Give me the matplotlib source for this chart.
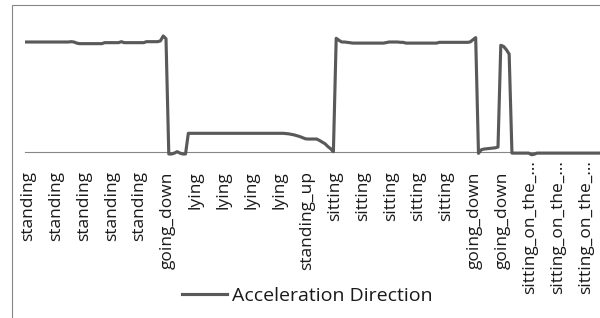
import matplotlib
matplotlib.use("Agg")
import matplotlib.pyplot as plt
import matplotlib.transforms as mtrans
from matplotlib.patches import Rectangle

# Activity label shown for every 10th sample
activity_labels = ['standing', 'standing', 'standing', 'standing', 'standing',
                   'going_down',
                   'lying', 'lying', 'lying', 'lying',
                   'standing_up',
                   'sitting', 'sitting', 'sitting', 'sitting', 'sitting',
                   'going_down', 'going_down',
                   'sitting_on_the_\u2026', 'sitting_on_the_\u2026', 'sitting_on_the_\u2026']
label_every = 10

# Acceleration direction samples, 10 per row (one row per label)
accel_direction = [
    1.00, 1.00, 1.00, 1.00, 1.00, 1.00, 1.00, 1.00, 1.00, 1.00,
    1.00, 1.00, 1.00, 1.00, 1.00, 1.00, 1.003, 1.00, 0.99, 0.985,
    0.985, 0.985, 0.985, 0.985, 0.985, 0.985, 0.985, 0.985, 0.994, 0.994,
    0.994, 0.994, 0.994, 0.994, 1.003, 0.994, 0.994, 0.994, 0.994, 0.994,
    0.994, 0.994, 0.994, 1.003, 1.003, 1.003, 1.003, 1.003, 1.01, 1.055,
    1.03, -0.018, -0.018, -0.01, 0.003, -0.01, -0.018, -0.018, 0.17, 0.17,
    0.17, 0.17, 0.17, 0.17, 0.17, 0.17, 0.17, 0.17, 0.17, 0.17,
    0.17, 0.17, 0.17, 0.17, 0.17, 0.17, 0.17, 0.17, 0.17, 0.17,
    0.17, 0.17, 0.17, 0.17, 0.17, 0.17, 0.17, 0.17, 0.17, 0.17,
    0.17, 0.17, 0.17, 0.168, 0.165, 0.16, 0.155, 0.148, 0.14, 0.13,
    0.12, 0.118, 0.118, 0.118, 0.118, 0.105, 0.09, 0.075, 0.05, 0.03,
    0.003, 1.034, 1.015, 1.00, 1.00, 0.997, 0.995, 0.99, 0.99, 0.99,
    0.99, 0.99, 0.99, 0.99, 0.99, 0.99, 0.99, 0.99, 0.99, 0.995,
    1.00, 1.00, 1.00, 1.00, 0.997, 0.997, 0.99, 0.99, 0.99, 0.99,
    0.99, 0.99, 0.99, 0.99, 0.99, 0.99, 0.99, 0.99, 0.997, 0.997,
    0.997, 0.997, 0.997, 0.997, 0.997, 0.997, 0.997, 0.997, 0.997, 1.00,
    1.02, 1.04, -0.012, 0.02, 0.027, 0.03, 0.032, 0.035, 0.038, 0.045,
    0.97, 0.96, 0.93, 0.89, -0.01, -0.01, -0.01, -0.01, -0.01, -0.01,
    -0.01, -0.025, -0.02, -0.01, -0.01, -0.01, -0.01, -0.01, -0.01, -0.01,
    -0.01, -0.01, -0.01, -0.01, -0.01, -0.01, -0.01, -0.01, -0.01, -0.01,
    -0.01, -0.01, -0.01, -0.01, -0.01, -0.01, -0.01,
]
series_name = 'Acceleration Direction'

plt.rcParams['font.family'] = ['Open Sans', 'DejaVu Sans']

figure = plt.figure(figsize=(6.0, 3.18), dpi=100)
figure.patch.set_facecolor('white')

# Plot area, placed by hand to follow the Excel layout
ax = figure.add_axes([25 / 600, 0.4701, 575 / 600, 0.4670])
ax.plot(range(len(accel_direction)), accel_direction, color='#595959',
        linewidth=2.25, label=series_name)

ax.set_xlim(-0.54, 205.56)
ax.set_ylim(-0.15, 1.2)

for side in ['left', 'right', 'top']:
    ax.spines[side].set_visible(False)
ax.spines['bottom'].set_position(('data', 0))
ax.spines['bottom'].set_color('#868686')
ax.spines['bottom'].set_linewidth(0.8)
ax.spines['bottom'].set_zorder(0)
ax.set_yticks([])

tick_pos = [i * label_every for i in range(len(activity_labels))]
ax.set_xticks(tick_pos)
ax.set_xticklabels(activity_labels, rotation=90, va='top', ha='center',
                   fontsize=12.5, color='#1a1a1a')
ax.tick_params(axis='x', length=0, pad=14)

# Nudge labels a little right; truncated ones sit higher, like Excel does
nudge = mtrans.ScaledTranslation(1.5 / 100, 0, figure.dpi_scale_trans)
shift_up = mtrans.ScaledTranslation(1.5 / 100, 11 / 100, figure.dpi_scale_trans)
for lbl in ax.get_xticklabels():
    if lbl.get_text().startswith('sitting_on'):
        lbl.set_transform(lbl.get_transform() + shift_up)
    else:
        lbl.set_transform(lbl.get_transform() + nudge)

# Legend under the labels
figure.legend(loc='center', bbox_to_anchor=(0.5125, 0.069), frameon=False,
              fontsize=14, handlelength=2.3, handletextpad=0.3,
              borderpad=0, borderaxespad=0, labelcolor='#1a1a1a')

# Chart area border (cut off at right and bottom)
figure.add_artist(Rectangle((12 / 600, -0.1), 1.0, 1.1 - 5 / 318,
                            transform=figure.transFigure, fill=False,
                            edgecolor='#868686', linewidth=0.8, clip_on=False))

figure.savefig('out.png', dpi=100)
